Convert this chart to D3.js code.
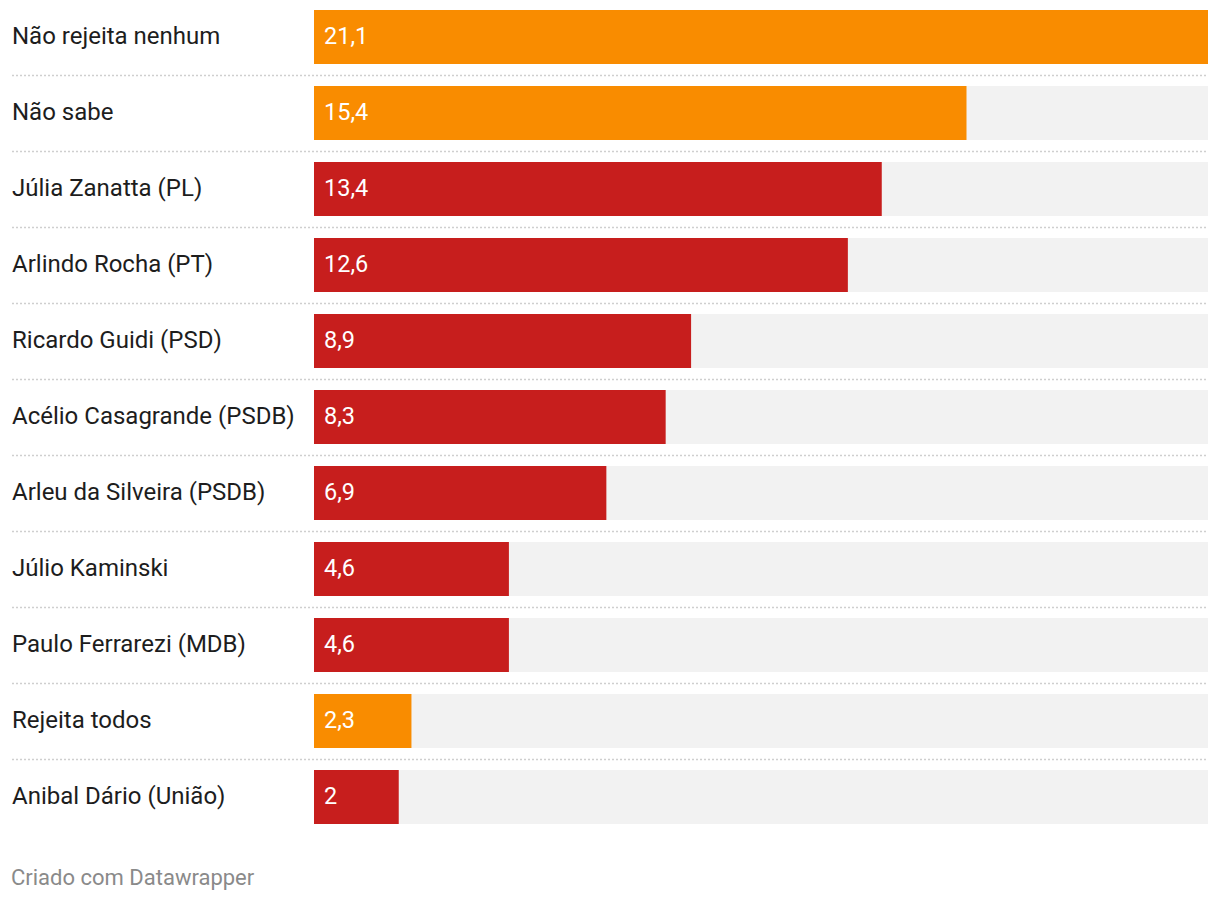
<!DOCTYPE html>
<html>
<head>
<meta charset="utf-8">
<script src="https://cdn.jsdelivr.net/npm/d3@7"></script>
<style>
  body { margin: 0; background: #fff; font-family: Roboto, "Noto Sans", sans-serif; }
</style>
</head>
<body>
<svg id="chart" width="1220" height="900"></svg>
<script>
const categories = ["Não rejeita nenhum","Não sabe","Júlia Zanatta (PL)","Arlindo Rocha (PT)","Ricardo Guidi (PSD)","Acélio Casagrande (PSDB)","Arleu da Silveira (PSDB)","Júlio Kaminski","Paulo Ferrarezi (MDB)","Rejeita todos","Anibal Dário (União)"];
const values = [21.1,15.4,13.4,12.6,8.9,8.3,6.9,4.6,4.6,2.3,2];
const groups = ["other","other","cand","cand","cand","cand","cand","cand","cand","other","cand"];
const valueLabels = ["21,1","15,4","13,4","12,6","8,9","8,3","6,9","4,6","4,6","2,3","2"];
const footer = "Criado com Datawrapper";

const svg = d3.select("#chart");
const color = d3.scaleOrdinal().domain(["other","cand"]).range(["#f98c00","#c71e1d"]);
const x = d3.scaleLinear().domain([0, d3.max(values)]).range([314, 1208]);
const y = d3.scaleBand().domain(categories).range([0, 76*categories.length]).paddingInner(0).paddingOuter(0);
const barH = 54, barOff = 10;

const rows = svg.selectAll("g.row").data(categories).join("g").attr("class","row")
  .attr("transform", d => `translate(0,${y(d)})`);

rows.append("rect").attr("x", x(0)).attr("y", barOff).attr("width", x.range()[1]-x(0)).attr("height", barH).attr("fill", "#f2f2f2");
rows.append("rect").attr("x", x(0)).attr("y", barOff)
  .attr("width", (d,i) => x(values[i]) - x(0)).attr("height", barH)
  .attr("fill", (d,i) => color(groups[i]));
rows.append("text").attr("x", 12).attr("y", barOff + barH/2 + 6.5)
  .attr("font-size", 24).attr("fill", "#1d1d1d").text(d => d);
rows.append("text").attr("x", x(0) + 10).attr("y", barOff + barH/2 + 7)
  .attr("font-size", 23.5).attr("fill", "#fff").text((d,i) => valueLabels[i]);
rows.filter((d,i) => i < categories.length - 1).append("line")
  .attr("x1", 12).attr("x2", 1208).attr("y1", 75.5).attr("y2", 75.5)
  .attr("stroke", "#cfcfcf").attr("stroke-width", 1.5).attr("stroke-dasharray", "2,2");

svg.append("text").attr("x", 11).attr("y", 884.5).attr("font-size", 22).attr("fill", "#8a8a8a").text(footer);
</script>
</body>
</html>
